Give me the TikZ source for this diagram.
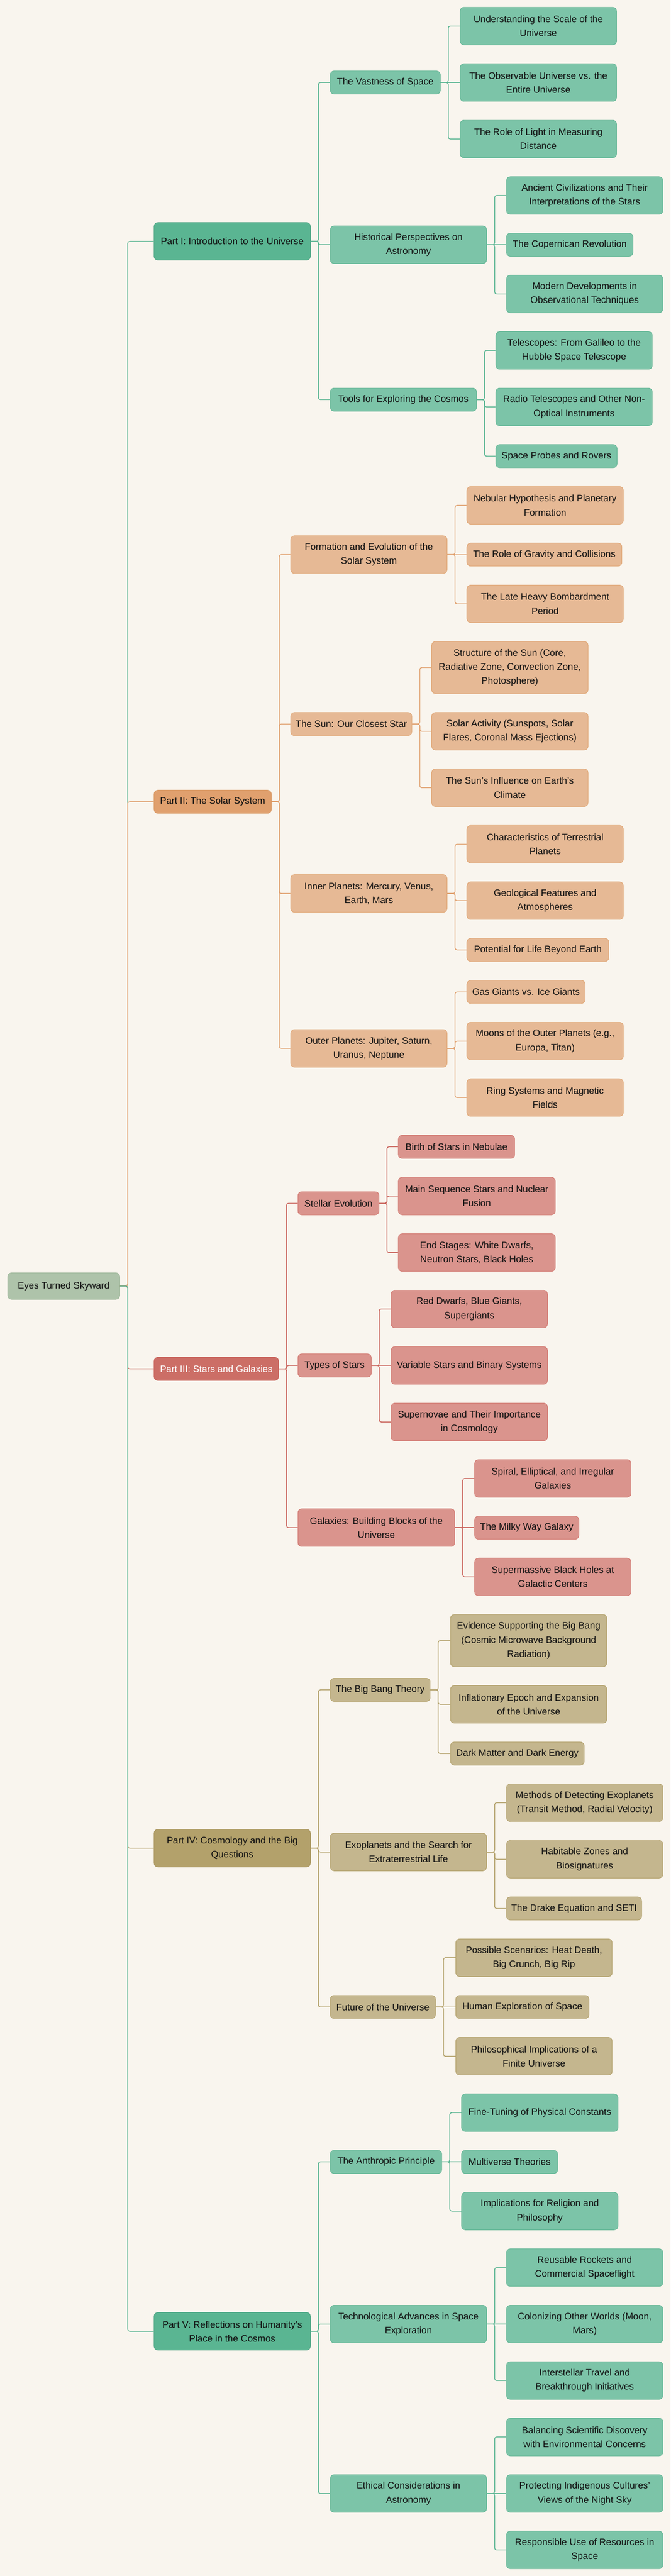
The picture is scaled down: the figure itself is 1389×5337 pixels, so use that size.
\documentclass[tikz,border=0pt]{standalone}
\usepackage{fontspec}
\setmainfont{Liberation Sans}
\definecolor{bgc}{HTML}{F9F5EE}
\definecolor{gA}{HTML}{5AB592}
\definecolor{gAd}{HTML}{4FA585}
\definecolor{gB}{HTML}{7CC4A8}
\definecolor{gBd}{HTML}{62B594}
\definecolor{oA}{HTML}{E0A06E}
\definecolor{oAd}{HTML}{D8965F}
\definecolor{oB}{HTML}{E6B995}
\definecolor{oBd}{HTML}{E0A674}
\definecolor{rA}{HTML}{CC6E66}
\definecolor{rAd}{HTML}{C9625A}
\definecolor{rB}{HTML}{DA948D}
\definecolor{rBd}{HTML}{D27870}
\definecolor{tA}{HTML}{B3A16B}
\definecolor{tAd}{HTML}{A8955E}
\definecolor{tB}{HTML}{C4B68E}
\definecolor{tBd}{HTML}{B3A16B}
\definecolor{rootc}{HTML}{AEC3AA}
\definecolor{rootd}{HTML}{9DB699}
\definecolor{txt}{HTML}{111111}
\newcommand{\mybox}[7]{\node[#6,minimum width={(#4-#2)*1pt},minimum height={(#5-#3)*1pt}] (#1) at ({(#2+#4)/2},{(#3+#5)/2}) {#7};}
\newcommand{\myedge}[3]{\draw[#3] (#1.east) -- ++(16,0) |- (#2.west);}
\newcommand{\mystraight}[3]{\draw[#3] (#1.east) -- (#2.west);}
\tikzset{
  base/.style={rounded corners=8pt, inner sep=0pt, align=center, font=\fontsize{19.5pt}{29pt}\selectfont, text=txt, line width=1pt},
  rootbox/.style={base, fill=rootc, draw=rootd},
  gP/.style={base, fill=gA, draw=gAd},
  gC/.style={base, fill=gB, draw=gBd},
  oP/.style={base, fill=oA, draw=oAd},
  oC/.style={base, fill=oB, draw=oBd},
  rP/.style={base, fill=rA, draw=rAd, text=white},
  rC/.style={base, fill=rB, draw=rBd},
  tP/.style={base, fill=tA, draw=tAd},
  tC/.style={base, fill=tB, draw=tBd},
  ln/.style={line width=1.6pt, rounded corners=4pt},
  gL/.style={ln, draw=gA},
  oL/.style={ln, draw=oA},
  rL/.style={ln, draw=rAd},
  tL/.style={ln, draw=tA},
}
\begin{document}
\begin{tikzpicture}[x=1pt,y=-1pt]
\useasboundingbox (0,0) rectangle (1389,5337);
\fill[bgc] (0,0) rectangle (1389,5337);

% root
\mybox{root}{16}{2637}{248}{2692}{rootbox}{Eyes Turned Skyward}

% Part I
\mybox{p1}{319}{461}{643}{539}{gP}{Part I: Introduction to the Universe}
\mybox{a1}{684}{147}{912}{195}{gC}{The Vastness of Space}
\mybox{a1a}{953}{15}{1277}{93}{gC}{Understanding the Scale of the\\Universe}
\mybox{a1b}{953}{132}{1277}{210}{gC}{The Observable Universe vs. the\\Entire Universe}
\mybox{a1c}{953}{249}{1277}{327}{gC}{The Role of Light in Measuring\\Distance}
\mybox{a2}{684}{468}{1008}{546}{gC}{Historical Perspectives on\\Astronomy}
\mybox{a2a}{1049}{366}{1373}{444}{gC}{Ancient Civilizations and Their\\Interpretations of the Stars}
\mybox{a2b}{1049}{483}{1311}{531}{gC}{The Copernican Revolution}
\mybox{a2c}{1049}{570}{1373}{648}{gC}{Modern Developments in\\Observational Techniques}
\mybox{a3}{684}{804}{987}{852}{gC}{Tools for Exploring the Cosmos}
\mybox{a3a}{1027}{687}{1351}{765}{gC}{Telescopes: From Galileo to the\\Hubble Space Telescope}
\mybox{a3b}{1027}{804}{1351}{882}{gC}{Radio Telescopes and Other Non-\\Optical Instruments}
\mybox{a3c}{1027}{921}{1278}{969}{gC}{Space Probes and Rovers}

% Part II
\mybox{p2}{319}{1637}{562}{1685}{oP}{Part II: The Solar System}
\mybox{b1}{602}{1110}{926}{1188}{oC}{Formation and Evolution of the\\Solar System}
\mybox{b1a}{967}{1008}{1291}{1086}{oC}{Nebular Hypothesis and Planetary\\Formation}
\mybox{b1b}{967}{1125}{1288}{1173}{oC}{The Role of Gravity and Collisions}
\mybox{b1c}{967}{1212}{1291}{1290}{oC}{The Late Heavy Bombardment\\Period}
\mybox{b2}{602}{1476}{853}{1524}{oC}{The Sun: Our Closest Star}
\mybox{b2a}{894}{1329}{1218}{1437}{oC}{Structure of the Sun (Core,\\Radiative Zone, Convection Zone,\\Photosphere)}
\mybox{b2b}{894}{1476}{1218}{1554}{oC}{Solar Activity (Sunspots, Solar\\Flares, Coronal Mass Ejections)}
\mybox{b2c}{894}{1593}{1218}{1671}{oC}{The Sun's Influence on Earth's\\Climate}
\mybox{b3}{602}{1812}{926}{1890}{oC}{Inner Planets: Mercury, Venus,\\Earth, Mars}
\mybox{b3a}{967}{1710}{1291}{1788}{oC}{Characteristics of Terrestrial\\Planets}
\mybox{b3b}{967}{1827}{1291}{1905}{oC}{Geological Features and\\Atmospheres}
\mybox{b3c}{967}{1944}{1261}{1992}{oC}{Potential for Life Beyond Earth}
\mybox{b4}{602}{2133}{926}{2211}{oC}{Outer Planets: Jupiter, Saturn,\\Uranus, Neptune}
\mybox{b4a}{967}{2031}{1212}{2079}{oC}{Gas Giants vs. Ice Giants}
\mybox{b4b}{967}{2118}{1291}{2196}{oC}{Moons of the Outer Planets (e.g.,\\Europa, Titan)}
\mybox{b4c}{967}{2235}{1291}{2313}{oC}{Ring Systems and Magnetic\\Fields}

% Part III
\mybox{p3}{319}{2812}{577}{2860}{rP}{Part III: Stars and Galaxies}
\mybox{c1}{617}{2469}{785}{2517}{rC}{Stellar Evolution}
\mybox{c1a}{825}{2352}{1066}{2400}{rC}{Birth of Stars in Nebulae}
\mybox{c1b}{825}{2439}{1150}{2517}{rC}{Main Sequence Stars and Nuclear\\Fusion}
\mybox{c1c}{825}{2556}{1150}{2634}{rC}{End Stages: White Dwarfs,\\Neutron Stars, Black Holes}
\mybox{c2}{617}{2805}{769}{2853}{rC}{Types of Stars}
\mybox{c2a}{810}{2673}{1134}{2751}{rC}{Red Dwarfs, Blue Giants,\\Supergiants}
\mybox{c2b}{810}{2790}{1134}{2868}{rC}{Variable Stars and Binary Systems}
\mybox{c2c}{810}{2907}{1134}{2985}{rC}{Supernovae and Their Importance\\in Cosmology}
\mybox{c3}{617}{3126}{942}{3204}{rC}{Galaxies: Building Blocks of the\\Universe}
\mybox{c3a}{983}{3024}{1307}{3102}{rC}{Spiral, Elliptical, and Irregular\\Galaxies}
\mybox{c3b}{983}{3141}{1199}{3189}{rC}{The Milky Way Galaxy}
\mybox{c3c}{983}{3228}{1307}{3306}{rC}{Supermassive Black Holes at\\Galactic Centers}

% Part IV
\mybox{p4}{319}{3790}{643}{3868}{tP}{Part IV: Cosmology and the Big\\Questions}
\mybox{d1}{684}{3477}{891}{3525}{tC}{The Big Bang Theory}
\mybox{d1a}{933}{3345}{1257}{3453}{tC}{Evidence Supporting the Big Bang\\(Cosmic Microwave Background\\Radiation)}
\mybox{d1b}{933}{3492}{1257}{3570}{tC}{Inflationary Epoch and Expansion\\of the Universe}
\mybox{d1c}{933}{3609}{1210}{3657}{tC}{Dark Matter and Dark Energy}
\mybox{d2}{684}{3798}{1008}{3876}{tC}{Exoplanets and the Search for\\Extraterrestrial Life}
\mybox{d2a}{1049}{3696}{1373}{3774}{tC}{Methods of Detecting Exoplanets\\(Transit Method, Radial Velocity)}
\mybox{d2b}{1049}{3813}{1373}{3891}{tC}{Habitable Zones and\\Biosignatures}
\mybox{d2c}{1049}{3930}{1329}{3978}{tC}{The Drake Equation and SETI}
\mybox{d3}{684}{4134}{902}{4182}{tC}{Future of the Universe}
\mybox{d3a}{944}{4017}{1268}{4095}{tC}{Possible Scenarios: Heat Death,\\Big Crunch, Big Rip}
\mybox{d3b}{944}{4134}{1220}{4182}{tC}{Human Exploration of Space}
\mybox{d3c}{944}{4221}{1268}{4299}{tC}{Philosophical Implications of a\\Finite Universe}

% Part V
\mybox{p5}{319}{4791}{643}{4869}{gP}{Part V: Reflections on Humanity's\\Place in the Cosmos}
\mybox{e1}{684}{4455}{915}{4503}{gC}{The Anthropic Principle}
\mybox{e1a}{956}{4338}{1280}{4416}{gC}{Fine-Tuning of Physical Constants}
\mybox{e1b}{956}{4455}{1155}{4503}{gC}{Multiverse Theories}
\mybox{e1c}{956}{4542}{1280}{4620}{gC}{Implications for Religion and\\Philosophy}
\mybox{e2}{684}{4776}{1008}{4854}{gC}{Technological Advances in Space\\Exploration}
\mybox{e2a}{1049}{4659}{1373}{4737}{gC}{Reusable Rockets and\\Commercial Spaceflight}
\mybox{e2b}{1049}{4776}{1373}{4854}{gC}{Colonizing Other Worlds (Moon,\\Mars)}
\mybox{e2c}{1049}{4893}{1373}{4971}{gC}{Interstellar Travel and\\Breakthrough Initiatives}
\mybox{e3}{684}{5127}{1008}{5205}{gC}{Ethical Considerations in\\Astronomy}
\mybox{e3a}{1049}{5010}{1373}{5088}{gC}{Balancing Scientific Discovery\\with Environmental Concerns}
\mybox{e3b}{1049}{5127}{1373}{5205}{gC}{Protecting Indigenous Cultures'\\Views of the Night Sky}
\mybox{e3c}{1049}{5244}{1373}{5322}{gC}{Responsible Use of Resources in\\Space}

% root edges (order matters for overlapping colours)
\myedge{root}{p1}{gL}
\myedge{root}{p2}{oL}
\myedge{root}{p3}{rL}
\myedge{root}{p4}{tL}
\myedge{root}{p5}{gL}

% Part I edges
\myedge{p1}{a1}{gL}
\myedge{p1}{a2}{gL}
\myedge{p1}{a3}{gL}
\myedge{a1}{a1a}{gL}
\mystraight{a1}{a1b}{gL}
\myedge{a1}{a1c}{gL}
\myedge{a2}{a2a}{gL}
\mystraight{a2}{a2b}{gL}
\myedge{a2}{a2c}{gL}
\myedge{a3}{a3a}{gL}
\myedge{a3}{a3b}{gL}
\myedge{a3}{a3c}{gL}

% Part II edges
\myedge{p2}{b1}{oL}
\myedge{p2}{b2}{oL}
\myedge{p2}{b3}{oL}
\myedge{p2}{b4}{oL}
\myedge{b1}{b1a}{oL}
\mystraight{b1}{b1b}{oL}
\myedge{b1}{b1c}{oL}
\myedge{b2}{b2a}{oL}
\myedge{b2}{b2b}{oL}
\myedge{b2}{b2c}{oL}
\myedge{b3}{b3a}{oL}
\myedge{b3}{b3b}{oL}
\myedge{b3}{b3c}{oL}
\myedge{b4}{b4a}{oL}
\myedge{b4}{b4b}{oL}
\myedge{b4}{b4c}{oL}

% Part III edges
\myedge{p3}{c1}{rL}
\myedge{p3}{c2}{rL}
\myedge{p3}{c3}{rL}
\myedge{c1}{c1a}{rL}
\myedge{c1}{c1b}{rL}
\myedge{c1}{c1c}{rL}
\myedge{c2}{c2a}{rL}
\mystraight{c2}{c2b}{rL}
\myedge{c2}{c2c}{rL}
\myedge{c3}{c3a}{rL}
\mystraight{c3}{c3b}{rL}
\myedge{c3}{c3c}{rL}

% Part IV edges
\myedge{p4}{d1}{tL}
\myedge{p4}{d2}{tL}
\myedge{p4}{d3}{tL}
\myedge{d1}{d1a}{tL}
\myedge{d1}{d1b}{tL}
\myedge{d1}{d1c}{tL}
\myedge{d2}{d2a}{tL}
\myedge{d2}{d2b}{tL}
\myedge{d2}{d2c}{tL}
\myedge{d3}{d3a}{tL}
\mystraight{d3}{d3b}{tL}
\myedge{d3}{d3c}{tL}

% Part V edges
\myedge{p5}{e1}{gL}
\myedge{p5}{e2}{gL}
\myedge{p5}{e3}{gL}
\myedge{e1}{e1a}{gL}
\mystraight{e1}{e1b}{gL}
\myedge{e1}{e1c}{gL}
\myedge{e2}{e2a}{gL}
\mystraight{e2}{e2b}{gL}
\myedge{e2}{e2c}{gL}
\myedge{e3}{e3a}{gL}
\mystraight{e3}{e3b}{gL}
\myedge{e3}{e3c}{gL}
\end{tikzpicture}
\end{document}
